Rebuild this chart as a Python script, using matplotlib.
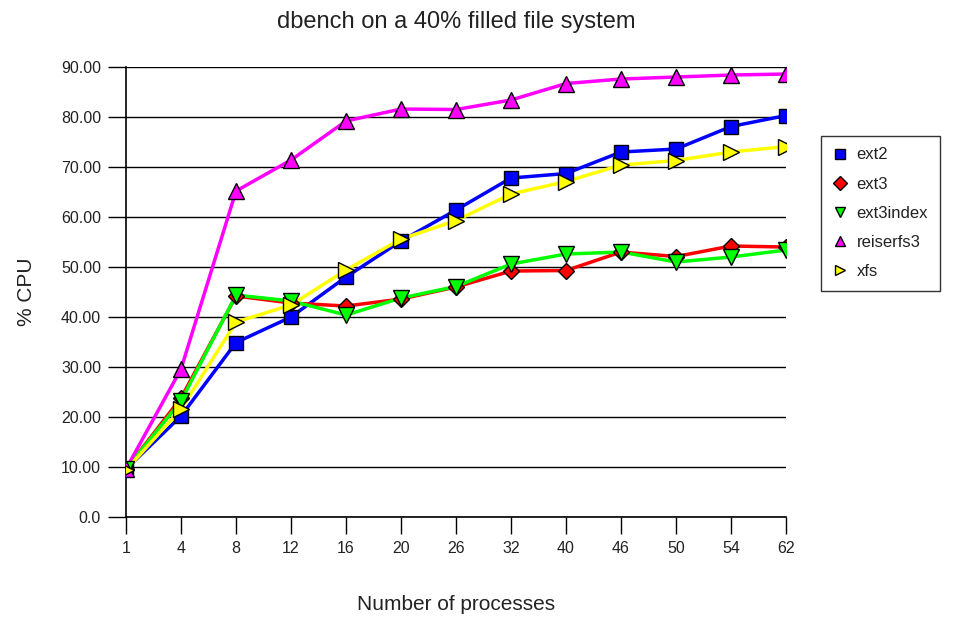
import matplotlib.pyplot as plt

plt.rcParams['font.family'] = ['Liberation Sans', 'DejaVu Sans']

procs = ['1', '4', '8', '12', '16', '20', '26', '32', '40', '46', '50', '54', '62']

ext2 = [9.6, 20.2, 34.9, 40.0, 48.0, 55.2, 61.4, 67.8, 68.7, 73.0, 73.6, 78.1, 80.3]
ext3 = [9.6, 23.8, 44.2, 42.8, 42.2, 43.6, 46.0, 49.2, 49.3, 53.0, 52.1, 54.2, 54.0]
ext3index = [9.6, 23.2, 44.4, 43.2, 40.4, 43.8, 46.1, 50.6, 52.6, 53.0, 51.0, 52.0, 53.4]
reiserfs3 = [9.6, 29.6, 65.2, 71.4, 79.2, 81.6, 81.5, 83.4, 86.7, 87.6, 88.0, 88.4, 88.6]
xfs = [9.4, 21.6, 39.0, 42.4, 49.4, 55.6, 59.3, 64.6, 67.1, 70.4, 71.3, 73.0, 74.1]

series = [
    ('ext2', ext2, 'blue', 's', 10),
    ('ext3', ext3, 'red', 'D', 8),
    ('ext3index', ext3index, '#00ff00', 'v', 11),
    ('reiserfs3', reiserfs3, 'magenta', '^', 11),
    ('xfs', xfs, 'yellow', '>', 11),
]

txt = '#222222'

fig = plt.figure(figsize=(9.54, 6.2), dpi=100)
ax = fig.add_axes([0.1321, 0.1661, 0.6918, 0.7258])

x = list(range(len(procs)))
handles = []
for name, vals, color, marker, ms in series:
    ax.plot(x, vals, color=color, linewidth=2.5, zorder=3)
    ax.plot(x, vals, linestyle='none', marker=marker, markersize=ms,
            markerfacecolor=color, markeredgecolor='black', markeredgewidth=1, zorder=4)
    h, = ax.plot([], [], linestyle='none', marker=marker, markersize=7,
                 markerfacecolor=color, markeredgecolor='black', markeredgewidth=1)
    h.set_label(name)
    handles.append(h)

ax.set_xlim(0, len(procs) - 1)
ax.set_ylim(0, 90)
ax.set_xticks(x)
ax.set_xticklabels(procs)
yt = list(range(0, 91, 10))
ax.set_yticks(yt)
ax.set_yticklabels(['0.0'] + ['%.2f' % v for v in yt[1:]])
ax.yaxis.grid(True, color='black', linewidth=1)
ax.set_axisbelow(True)
for s in ['top', 'right']:
    ax.spines[s].set_visible(False)
ax.spines['left'].set_linewidth(1.2)
ax.spines['bottom'].set_linewidth(1.2)
ax.tick_params(axis='y', length=13, width=1, labelsize=11.5, labelcolor=txt, pad=5)
ax.tick_params(axis='x', length=12, width=1, labelsize=11.5, labelcolor=txt, pad=5)

ax.set_title('dbench on a 40% filled file system', fontsize=17, pad=28, color=txt)
ax.set_xlabel('Number of processes', fontsize=15, labelpad=28, color=txt)
ax.set_ylabel('% CPU', fontsize=15, labelpad=18, color=txt)

leg = fig.legend(handles=handles, loc='upper left', bbox_to_anchor=(0.861, 0.781),
                 fontsize=12, frameon=True, fancybox=False, edgecolor='black',
                 handlelength=0.8, handletextpad=0.6, labelspacing=0.85,
                 borderpad=0.7, borderaxespad=0)
for t in leg.get_texts():
    t.set_color(txt)
leg.get_frame().set_linewidth(1)

fig.savefig('out.png', dpi=100)
